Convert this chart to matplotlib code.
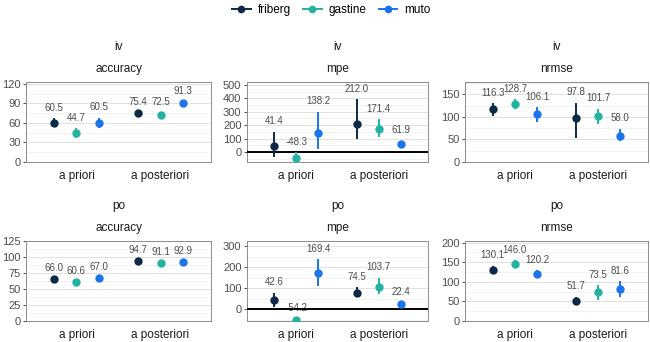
import matplotlib
matplotlib.use("Agg")
import matplotlib.pyplot as plt
from matplotlib.lines import Line2D
import numpy as np

plt.rcParams['font.family'] = ['Liberation Sans', 'DejaVu Sans']

# ── data ──────────────────────────────────────────
methods = ["friberg", "gastine", "muto"]
colors  = ["#0c2a47", "#22b3a0", "#1b74ec"]
stages  = ["a priori", "a posteriori"]
rows    = ["iv", "po"]
metrics = ["accuracy", "mpe", "nrmse"]

# values per stage: [friberg, gastine, muto]
iv_acc_mean = [[60.5, 44.7, 60.5], [75.4, 72.5, 91.3]]
iv_acc_lo   = [[54, 37, 53], [74, 68, 90]]
iv_acc_hi   = [[67, 52, 68], [77, 77, 93]]

iv_mpe_mean = [[41.4, -48.3, 138.2], [212.0, 171.4, 61.9]]
iv_mpe_lo   = [[-35, -96, 20], [97, 110, 42]]
iv_mpe_hi   = [[152, 0, 300], [393, 244, 84]]

iv_nrmse_mean = [[116.3, 128.7, 106.1], [97.8, 101.7, 58.0]]
iv_nrmse_lo   = [[102, 117, 88], [52, 85, 46]]
iv_nrmse_hi   = [[130, 139, 121], [131, 118, 74]]

po_acc_mean = [[66.0, 60.6, 67.0], [94.7, 91.1, 92.9]]
po_acc_lo   = [[64.5, 59, 65.5], [93.5, 90, 91.8]]
po_acc_hi   = [[67.5, 62, 68.5], [95.8, 92.2, 94]]

po_mpe_mean = [[42.6, -54.2, 169.4], [74.5, 103.7, 22.4]]
po_mpe_lo   = [[12, -70, 110], [55, 70, 14]]
po_mpe_hi   = [[78, -46, 237], [105, 150, 31]]

po_nrmse_mean = [[130.1, 146.0, 120.2], [51.7, 73.5, 81.6]]
po_nrmse_lo   = [[122, 139, 112], [40, 53, 61]]
po_nrmse_hi   = [[141, 155, 130], [62, 91, 101]]

panels = {
    ("iv", "accuracy"): (iv_acc_mean, iv_acc_lo, iv_acc_hi),
    ("iv", "mpe"):      (iv_mpe_mean, iv_mpe_lo, iv_mpe_hi),
    ("iv", "nrmse"):    (iv_nrmse_mean, iv_nrmse_lo, iv_nrmse_hi),
    ("po", "accuracy"): (po_acc_mean, po_acc_lo, po_acc_hi),
    ("po", "mpe"):      (po_mpe_mean, po_mpe_lo, po_mpe_hi),
    ("po", "nrmse"):    (po_nrmse_mean, po_nrmse_lo, po_nrmse_hi),
}

# axis settings: (ylim, major ticks)
axis_cfg = {
    ("iv", "accuracy"): ((0, 123), np.arange(0, 121, 30)),
    ("iv", "mpe"):      ((-75, 522), np.arange(0, 501, 100)),
    ("iv", "nrmse"):    ((0, 177), np.arange(0, 151, 50)),
    ("po", "accuracy"): ((0, 125.5), np.arange(0, 126, 25)),
    ("po", "mpe"):      ((-57, 324), np.arange(0, 301, 100)),
    ("po", "nrmse"):    ((0, 204), np.arange(0, 201, 50)),
}

# ── layout (pixels) ───────────────────────────────
W, H = 650, 342
fig = plt.figure(figsize=(W / 100, H / 100), dpi=100)

col_x   = [(26, 211), (247, 428), (465, 648)]
row_y   = [(82, 162), (241, 321)]
row_lab = [47, 206]
met_lab = [69, 228]

dodge = [-0.267, 0.0, 0.267]
grey_txt = "#4d4d4d"

for r, row in enumerate(rows):
    for c, met in enumerate(metrics):
        x0, x1 = col_x[c]
        yt, yb = row_y[r]
        ax = fig.add_axes([x0 / W, 1 - yb / H, (x1 - x0) / W, (yb - yt) / H])
        mean, lo, hi = panels[(row, met)]
        ylim, ticks = axis_cfg[(row, met)]

        # grid
        step = ticks[1] - ticks[0]
        for t in ticks:
            ax.axhline(t, color="#dcdcdc", lw=0.6, zorder=0)
        for t in np.arange(ticks[0] - step / 2, ylim[1], step):
            if ylim[0] < t < ylim[1]:
                ax.axhline(t, color="#ededed", lw=0.5, zorder=0)

        if met == "mpe":
            ax.axhline(0, color="black", lw=1.4, zorder=3)

        for s in range(len(stages)):
            for m in range(len(methods)):
                xp = s + 1 + dodge[m]
                ax.plot([xp, xp], [lo[s][m], hi[s][m]], color=colors[m],
                        lw=1.4, zorder=4, solid_capstyle="butt")
                ax.plot(xp, mean[s][m], "o", color=colors[m], ms=5, zorder=5)
                ax.annotate(f"{mean[s][m]:.1f}", (xp, hi[s][m]),
                            xytext=(0, 7.5), textcoords="offset points",
                            ha="center", va="center", fontsize=7,
                            color=grey_txt, zorder=2)

        ax.set_xlim(0.4, 2.6)
        ax.set_ylim(*ylim)
        ax.set_yticks(ticks)
        ax.set_xticks([1, 2])
        ax.set_xticklabels(stages)
        ax.tick_params(axis="x", length=0, pad=6, labelsize=8.5, labelcolor="#1a1a1a")
        ax.tick_params(axis="y", length=2.5, width=0.6, color="#333333",
                       pad=1.5, labelsize=8, labelcolor=grey_txt)
        for sp in ax.spines.values():
            sp.set_color("#8c8c8c")
            sp.set_linewidth(0.7)

        cx = (x0 + x1) / 2 / W
        fig.text(cx, 1 - row_lab[r] / H, row, ha="center", va="center",
                 fontsize=8.5, color="#1a1a1a")
        fig.text(cx, 1 - met_lab[r] / H, met, ha="center", va="center",
                 fontsize=8.5, color="#1a1a1a")

handles = [Line2D([0], [0], color=col, lw=1.4, marker="o", ms=4.5) for col in colors]
fig.legend(handles, methods, loc="center", bbox_to_anchor=(0.51, 1 - 10 / H),
           ncol=3, frameon=False, fontsize=8.5, handlelength=1.6,
           columnspacing=1.0, handletextpad=0.6)

fig.savefig("out.png", dpi=100)
